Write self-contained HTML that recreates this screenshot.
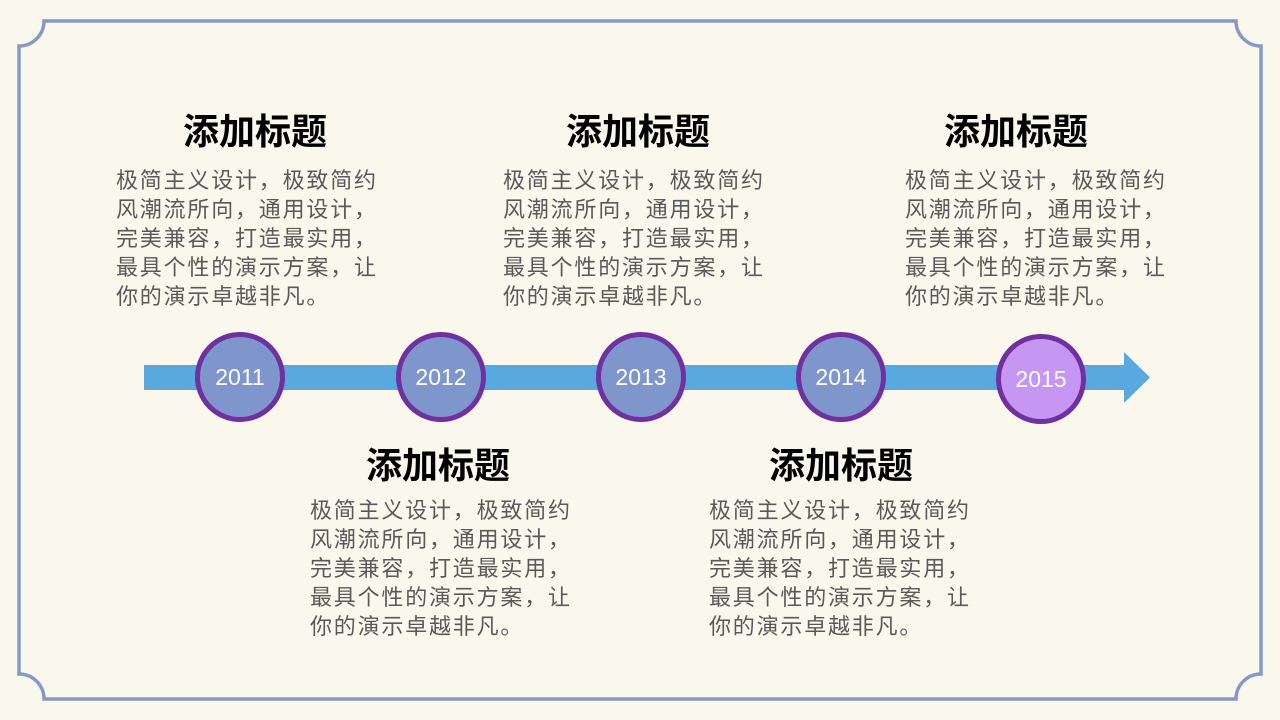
<!DOCTYPE html>
<html><head><meta charset="utf-8"><style>
body{margin:0;width:1280px;height:720px;background:#faf8ec;position:relative;overflow:hidden;font-family:"Liberation Sans","Noto Sans CJK SC",sans-serif}
.t{position:absolute;width:300px;text-align:center;font-size:36px;font-weight:bold;color:#000;line-height:44px}
.b{position:absolute;font-size:22px;letter-spacing:1.8px;color:#595959;line-height:29px;width:300px}
.c{position:absolute;width:80px;height:80px;border:5px solid #7030a0;border-radius:50%;background:#7f96cc;color:#fff;font-size:23px;line-height:80px;text-align:center}
</style></head><body>
<svg width="1280" height="720" style="position:absolute;left:0;top:0">
<path d="M44 21 H1236 A25 25 0 0 0 1261 46 V674 A25 25 0 0 0 1236 699 H44 A25 25 0 0 0 19 674 V46 A25 25 0 0 0 44 21 Z" fill="none" stroke="#8599c9" stroke-width="3.5"/>
<rect x="144" y="365" width="982" height="25" fill="#5aa8e0"/>
<polygon points="1124,352 1150,377.5 1124,403" fill="#5aa8e0"/>
</svg>
<div class="c" style="left:195px;top:332px">2011</div>
<div class="c" style="left:396px;top:332px">2012</div>
<div class="c" style="left:596px;top:332px">2013</div>
<div class="c" style="left:796px;top:332px">2014</div>
<div class="c" style="left:996px;top:334px;background:#c596f2">2015</div>

<div class="t" style="left:105px;top:110px">添加标题</div>
<div class="b" style="left:116px;top:166px">极简主义设计，极致简约<br>风潮流所向，通用设计，<br>完美兼容，打造最实用，<br>最具个性的演示方案，让<br>你的演示卓越非凡。</div>
<div class="t" style="left:488px;top:110px">添加标题</div>
<div class="b" style="left:503px;top:166px">极简主义设计，极致简约<br>风潮流所向，通用设计，<br>完美兼容，打造最实用，<br>最具个性的演示方案，让<br>你的演示卓越非凡。</div>
<div class="t" style="left:866px;top:110px">添加标题</div>
<div class="b" style="left:905px;top:166px">极简主义设计，极致简约<br>风潮流所向，通用设计，<br>完美兼容，打造最实用，<br>最具个性的演示方案，让<br>你的演示卓越非凡。</div>
<div class="t" style="left:288px;top:444px">添加标题</div>
<div class="b" style="left:310px;top:496px">极简主义设计，极致简约<br>风潮流所向，通用设计，<br>完美兼容，打造最实用，<br>最具个性的演示方案，让<br>你的演示卓越非凡。</div>
<div class="t" style="left:691px;top:444px">添加标题</div>
<div class="b" style="left:709px;top:496px">极简主义设计，极致简约<br>风潮流所向，通用设计，<br>完美兼容，打造最实用，<br>最具个性的演示方案，让<br>你的演示卓越非凡。</div>
</body></html>
